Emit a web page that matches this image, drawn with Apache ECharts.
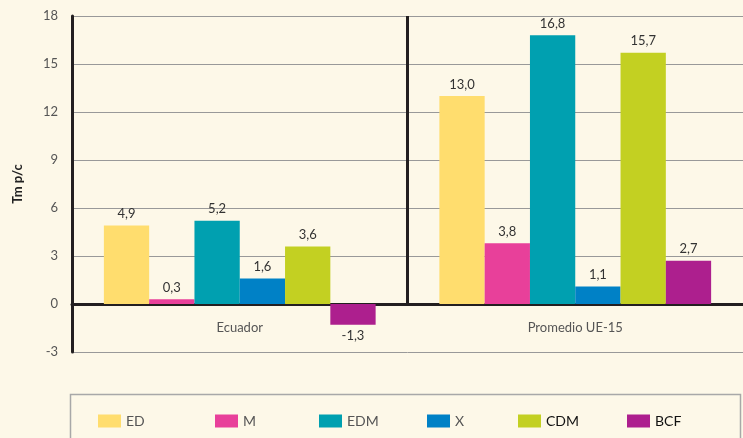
<!DOCTYPE html>
<html>
<head>
<meta charset="utf-8">
<script src="https://cdn.jsdelivr.net/npm/echarts@6/dist/echarts.min.js"></script>
<style>
  html, body { margin: 0; padding: 0; background: #fdf8e8; }
  #chart { width: 743px; height: 438px; }
</style>
</head>
<body>
<div id="chart"></div>
<script>
var categories = ["Ecuador", "Promedio UE-15"];
var seriesNames = ["ED", "M", "EDM", "X", "CDM", "BCF"];
var seriesColors = ["#ffdd6e", "#e8409a", "#00a0b0", "#0081c6", "#c3d022", "#ad1f8e"];
var ED = [4.9, 13.0];
var M = [0.3, 3.8];
var EDM = [5.2, 16.8];
var X = [1.6, 1.1];
var CDM = [3.6, 15.7];
var BCF = [-1.3, 2.7];
var yTicks = [-3, 0, 3, 6, 9, 12, 15, 18];

var values = [ED, M, EDM, X, CDM, BCF];
// legend swatch x positions, the legend is not evenly spaced
var legendLeft = [93, 210, 314, 422, 513, 622];
var legendDark = [false, false, false, false, true, true];

var chart = echarts.init(document.getElementById("chart"));
var font = "Lato, 'Open Sans', sans-serif";

function fmt(v){
  return v.toFixed(1).replace(".", ",");
}

var series = seriesNames.map(function(name, i){
  return {
    name: name,
    type: "bar",
    barGap: 0,
    barCategoryGap: "19%",
    itemStyle: { color: seriesColors[i] },
    label: {
      show: true,
      position: "top",
      color: "#333",
      fontSize: 13,
      fontFamily: font,
      formatter: function(p){ return fmt(p.value); }
    },
    data: values[i].map(function(v){
      if (v < 0) return { value: v, label: { position: "bottom" } };
      return v;
    })
  };
});

// divider between the two groups
series.push({
  type: "line",
  xAxisIndex: 1,
  data: [],
  silent: true,
  markLine: {
    symbol: "none",
    silent: true,
    label: { show: false },
    lineStyle: { color: "#231f20", width: 3, type: "solid" },
    data: [[{ coord: [1, 18] }, { coord: [1, 0] }]]
  }
});

var legends = seriesNames.map(function(name, i){
  return {
    data: [name],
    left: legendLeft[i],
    top: 409,
    icon: "rect",
    itemWidth: 23,
    itemHeight: 13,
    itemGap: 0,
    textStyle: {
      fontFamily: font,
      fontSize: 14,
      color: legendDark[i] ? "#111" : "#555"
    }
  };
});

chart.setOption({
  backgroundColor: "#fdf8e8",
  animation: false,
  textStyle: { fontFamily: font },
  grid: { left: 72, right: -3, top: 16, bottom: 86 },
  legend: legends,
  graphic: [{
    type: "rect",
    left: 68, top: 392,
    shape: { width: 670, height: 60 },
    style: { fill: "none", stroke: "#a8a8a8", lineWidth: 1.5 }
  }],
  xAxis: [{
    type: "category",
    data: categories,
    axisLine: { onZero: true, lineStyle: { color: "#231f20", width: 3 } },
    axisTick: { show: false },
    axisLabel: { color: "#555", fontSize: 13, margin: -31 }
  }, {
    type: "value",
    min: 0,
    max: 2,
    show: false
  }],
  yAxis: {
    type: "value",
    min: yTicks[0],
    max: yTicks[yTicks.length - 1],
    interval: 3,
    name: "Tm p/c",
    nameLocation: "middle",
    nameGap: 48,
    nameTextStyle: { color: "#222", fontSize: 13, fontWeight: "bold" },
    axisLine: { show: true, lineStyle: { color: "#231f20", width: 3 } },
    axisTick: { show: false },
    axisLabel: { color: "#555", fontSize: 13, margin: 14 },
    splitLine: { lineStyle: { color: "#999", width: 1 } }
  },
  series: series
});
</script>
</body>
</html>
